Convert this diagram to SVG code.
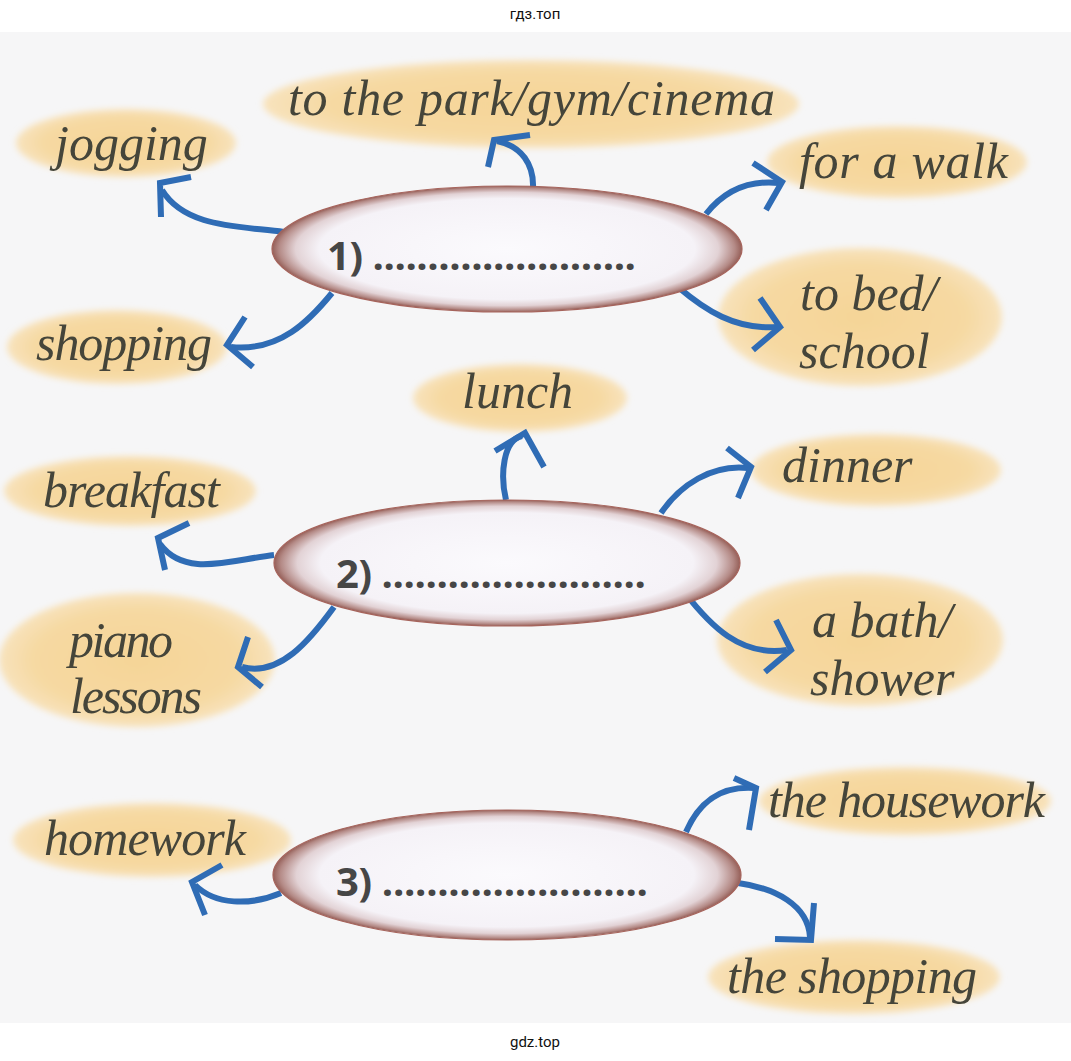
<svg xmlns="http://www.w3.org/2000/svg" width="1071" height="1061" viewBox="0 0 1071 1061">
<defs>
<radialGradient id="gEll" cx="0.5" cy="0.5" r="0.5">
<stop offset="0" stop-color="#fbfafd"/>
<stop offset="0.8" stop-color="#f5f2f7"/>
<stop offset="0.9" stop-color="#e2d2d5"/>
<stop offset="0.97" stop-color="#b48a86"/>
<stop offset="1" stop-color="#955f58"/>
</radialGradient>
<radialGradient id="gBlob" cx="0.5" cy="0.5" r="0.5">
<stop offset="0" stop-color="#f5d597"/>
<stop offset="0.75" stop-color="#f6d9a2"/>
<stop offset="1" stop-color="#f8e3bd"/>
</radialGradient>
<filter id="fuzz" x="-10%" y="-20%" width="120%" height="140%">
<feGaussianBlur stdDeviation="3"/>
</filter>
</defs>
<style>
.blob{fill:url(#gBlob);filter:url(#fuzz)}
.lbl{font-family:"Liberation Serif","Times New Roman",serif;font-style:italic;font-size:50px;fill:#45453a}
.ell{fill:url(#gEll);stroke:#a6645c;stroke-width:1.2}
.num{font-family:"Open Sans","Liberation Sans",Arial,sans-serif;font-weight:bold;font-size:40px;fill:#464646}
.wm{font-family:"Roboto","Liberation Sans",Arial,sans-serif;font-size:15px;fill:#111}
#connectors path{fill:none;stroke:#2f6cb5;stroke-width:6}
#connectors .hd{stroke-linejoin:miter;stroke-linecap:butt}
</style>
<rect x="0" y="0" width="1071" height="1061" fill="#ffffff"/>
<rect x="0" y="32" width="1071" height="991" fill="#f6f6f7"/>
<text class="wm" x="535" y="19" text-anchor="middle">гдз.топ</text>
<text class="wm" x="535" y="1047" text-anchor="middle">gdz.top</text>

<g id="n-park"><ellipse class="blob" cx="531" cy="104" rx="268" ry="44"/><text class="lbl" x="288" y="115" textLength="487" lengthAdjust="spacing">to the park/gym/cinema</text></g>
<g id="n-jogging"><ellipse class="blob" cx="126" cy="143" rx="110" ry="34"/><text class="lbl" x="55" y="160">jogging</text></g>
<g id="n-walk"><ellipse class="blob" cx="897" cy="162" rx="130" ry="36"/><text class="lbl" x="799" y="178" textLength="209" lengthAdjust="spacing">for a walk</text></g>
<g id="n-bed"><ellipse class="blob" cx="860" cy="317" rx="142" ry="69"/><text class="lbl" x="800" y="310">to bed/</text><text class="lbl" x="799" y="368">school</text></g>
<g id="n-shopping1"><ellipse class="blob" cx="117" cy="347" rx="110" ry="37"/><text class="lbl" x="36" y="360" textLength="176" lengthAdjust="spacing">shopping</text></g>
<g id="n-lunch"><ellipse class="blob" cx="520" cy="398" rx="107" ry="34"/><text class="lbl" x="462" y="408">lunch</text></g>
<g id="n-breakfast"><ellipse class="blob" cx="130" cy="491" rx="126" ry="35"/><text class="lbl" x="43" y="507" textLength="177" lengthAdjust="spacing">breakfast</text></g>
<g id="n-dinner"><ellipse class="blob" cx="876" cy="470" rx="125" ry="36"/><text class="lbl" x="782" y="482">dinner</text></g>
<g id="n-piano"><ellipse class="blob" cx="137" cy="660" rx="138" ry="67"/><text class="lbl" x="69" y="657" textLength="104" lengthAdjust="spacing">piano</text><text class="lbl" x="70" y="713" textLength="132" lengthAdjust="spacing">lessons</text></g>
<g id="n-bath"><ellipse class="blob" cx="860" cy="640" rx="143" ry="66"/><text class="lbl" x="812" y="637">a bath/</text><text class="lbl" x="810" y="695">shower</text></g>
<g id="n-homework"><ellipse class="blob" cx="152" cy="840" rx="139" ry="37"/><text class="lbl" x="44" y="855" textLength="202" lengthAdjust="spacing">homework</text></g>
<g id="n-housework"><ellipse class="blob" cx="905" cy="801" rx="146" ry="34"/><text class="lbl" x="768" y="817" textLength="277" lengthAdjust="spacing">the housework</text></g>
<g id="n-theshopping"><ellipse class="blob" cx="854" cy="977" rx="146" ry="37"/><text class="lbl" x="727" y="993" textLength="250" lengthAdjust="spacing">the shopping</text></g>

<g id="connectors">
<path d="M284,232 C240,226 185,228 162,190"/><path class="hd" d="M191,177 L160,183 L161,217"/>
<path d="M533,188 C534,165 522,146 497,141"/><path class="hd" d="M530,135 L494,140 L488,167"/>
<path d="M706,214 C725,190 750,180 779,183"/><path class="hd" d="M753,163 L782,182 L766,210"/>
<path d="M678,287 C705,310 735,330 777,327"/><path class="hd" d="M760,298 L780,327 L753,350"/>
<path d="M332,293 C310,320 280,352 231,347"/><path class="hd" d="M245,317 L227,345 L253,367"/>
<path d="M506,500 C500,475 503,440 522,436"/><path class="hd" d="M495,451 L525,433 L544,467"/>
<path d="M274,555 C230,560 185,578 160,544"/><path class="hd" d="M189,523 L158,538 L165,570"/>
<path d="M661,513 C680,485 712,464 748,468"/><path class="hd" d="M727,448 L751,467 L738,498"/>
<path d="M334,607 C310,640 280,677 242,667"/><path class="hd" d="M248,637 L238,667 L262,687"/>
<path d="M685,593 C710,625 740,657 787,650"/><path class="hd" d="M776,620 L791,650 L765,672"/>
<path d="M281,893 C250,906 215,905 195,885"/><path class="hd" d="M222,865 L192,882 L205,915"/>
<path d="M686,832 C700,800 722,786 754,788"/><path class="hd" d="M734,778 L756,788 L749,830"/>
<path d="M738,883 C775,888 808,905 810,937"/><path class="hd" d="M814,903 L811,940 L775,939"/>
</g>

<g id="c1"><ellipse class="ell" cx="507" cy="249" rx="235" ry="63"/><text class="num" x="327" y="270" textLength="309" lengthAdjust="spacing">1) ........................</text></g>
<g id="c2"><ellipse class="ell" cx="507" cy="563" rx="233" ry="63"/><text class="num" x="336" y="588" textLength="310" lengthAdjust="spacing">2) ........................</text></g>
<g id="c3"><ellipse class="ell" cx="507" cy="875" rx="234" ry="65"/><text class="num" x="336" y="896" textLength="312" lengthAdjust="spacing">3) ........................</text></g>
</svg>
